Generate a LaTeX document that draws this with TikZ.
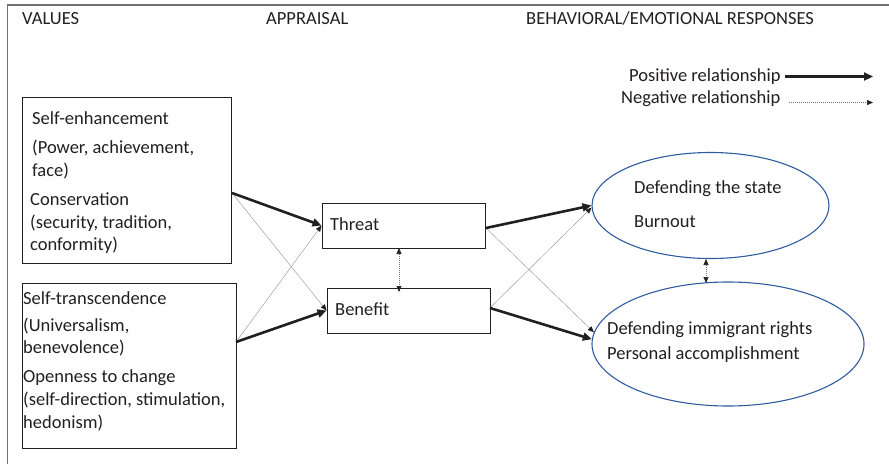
\documentclass[tikz,border=0pt]{standalone}
\usepackage{fontspec}
\setmainfont{Carlito}
\usetikzlibrary{shapes.geometric,arrows.meta}
\definecolor{txtc}{HTML}{231F20}
\definecolor{ellc}{HTML}{2F5C9E}
\begin{document}
\begin{tikzpicture}[x=1pt,y=-1pt,
  txt/.style={font=\fontsize{18.5}{21}\selectfont, inner sep=0pt, anchor=base west, text=txtc},
  boxnode/.style={draw=txtc, line width=0.9pt, rectangle, inner sep=0pt},
  ellnode/.style={draw=ellc, line width=1.1pt, ellipse, inner sep=0pt},
  posarrow/.style={draw=txtc, line width=2.6pt, -{Triangle[length=9pt,width=8pt]}},
  negarrow/.style={draw=black!40, line width=0.45pt, -{Triangle[length=6pt,width=5pt,fill=txtc,color=txtc]}},
  dblarrow/.style={draw=black!55, line width=0.6pt, dash pattern=on 1.2pt off 0.8pt,
     {Triangle[length=6pt,width=5pt,fill=txtc,color=txtc]}-{Triangle[length=6pt,width=5pt,fill=txtc,color=txtc]}},
  framec/.style={draw=black!55, line width=1.6pt}
]
\useasboundingbox (0,0) rectangle (889,464);
% frame
\coordinate (fa) at (7.5,464);
\coordinate (fb) at (7.5,5);
\coordinate (fc) at (889,5);
\draw[framec] (fa) -- (fb) -- (fc);

% headers
\node[txt] (hval) at (22,24) {VALUES};
\node[txt] (happ) at (266,24) {APPRAISAL};
\node[txt] (hbeh) at (526,24) {BEHAVIORAL/EMOTIONAL RESPONSES};

% legend
\node[txt] (lpos) at (629,81) {Positive relationship};
\node[txt] (lneg) at (621,103) {Negative relationship};
\coordinate (lpa) at (785,76.5);
\coordinate (lpb) at (873,76.5);
\coordinate (lna) at (789,102.5);
\coordinate (lnb) at (873,102.5);
\draw[posarrow, line width=2.2pt] (lpa) -- (lpb);
\draw[negarrow, dash pattern=on 1.2pt off 0.8pt, draw=black!55, line width=0.6pt] (lna) -- (lnb);

% value boxes
\node[boxnode, minimum width=209pt, minimum height=166pt] (vb1) at (126.5,180) {};
\node[boxnode, minimum width=214pt, minimum height=165pt] (vb2) at (129,365.5) {};
\node[txt] (t11) at (32,124) {Self-enhancement};
\node[txt] (t12) at (32,153) {(Power, achievement,};
\node[txt] (t13) at (32,176) {face)};
\node[txt] (t14) at (30,205) {Conservation};
\node[txt] (t15) at (30,228) {(security, tradition,};
\node[txt] (t16) at (30,250) {conformity)};
\node[txt] (t21) at (23,304) {Self-transcendence};
\node[txt] (t22) at (23,331) {(Universalism,};
\node[txt] (t23) at (23,353) {benevolence)};
\node[txt] (t24) at (23,382) {Openness to change};
\node[txt] (t25) at (23,405) {(self-direction, stimulation,};
\node[txt] (t26) at (23,428) {hedonism)};

% appraisal boxes
\node[boxnode, minimum width=163pt, minimum height=45pt] (thr) at (403.5,225.5) {};
\node[boxnode, minimum width=163pt, minimum height=45pt] (ben) at (408.5,310.5) {};
\node[txt] (tthr) at (330,230) {Threat};
\node[txt] (tben) at (335,315) {Benefit};

% response ellipses
\node[ellnode, minimum width=237pt, minimum height=106pt] (e1) at (710.5,205.5) {};
\node[ellnode, minimum width=272pt, minimum height=124pt] (e2) at (728,344) {};
\node[txt] (te11) at (634,193) {Defending the state};
\node[txt] (te12) at (634,227) {Burnout};
\node[txt] (te21) at (607,334) {Defending immigrant rights};
\node[txt] (te22) at (607,359) {Personal accomplishment};

% ports
\coordinate (p1) at (232,193);
\coordinate (p2) at (236,342);
\coordinate (p3) at (486,228);
\coordinate (p4) at (490,308);

% connectors
\draw[negarrow] (p1) -- (ben.west);
\draw[negarrow] (p2) -- (thr.west);
\draw[negarrow] (p3) -- (e2.175);
\draw[negarrow] (p4) -- (e1.181);
\draw[posarrow] (p1) -- (thr.west);
\draw[posarrow] (p2) -- (ben.west);
\draw[posarrow] (p3) -- (e1.west);
\draw[posarrow] (p4) -- (e2.178);

\coordinate (da) at (399,248);
\coordinate (db) at (399,292);
\draw[dblarrow] (da) -- (db);
\coordinate (dc) at (706,259);
\coordinate (dd) at (706,283);
\draw[dblarrow] (dc) -- (dd);
\end{tikzpicture}
\end{document}
